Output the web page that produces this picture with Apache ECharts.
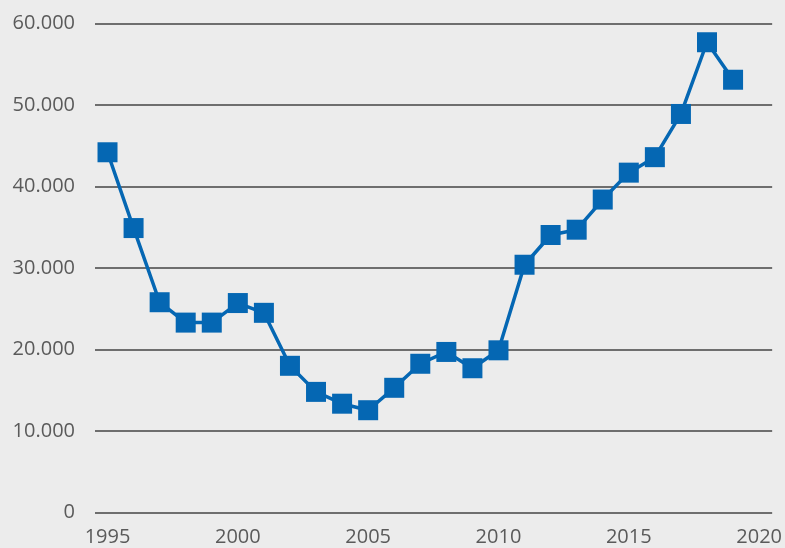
<!DOCTYPE html>
<html>
<head>
<meta charset="utf-8">
<script src="https://cdn.jsdelivr.net/npm/echarts@6/dist/echarts.min.js"></script>
<style>
  html, body { margin: 0; padding: 0; background: #ececec; }
  #chart { width: 785px; height: 548px; }
</style>
</head>
<body>
<div id="chart"></div>
<script>
// Jahre und Werte
const years = [1995, 1996, 1997, 1998, 1999, 2000, 2001, 2002, 2003, 2004, 2005, 2006,
  2007, 2008, 2009, 2010, 2011, 2012, 2013, 2014, 2015, 2016, 2017, 2018, 2019];
const values = [44200, 34900, 25800, 23300, 23300, 25700, 24500, 18000, 14800, 13350, 12550, 15300,
  18250, 19700, 17700, 19900, 30400, 34050, 34700, 38400, 41700, 43600, 48900, 57700, 53100];
const xTicks = [1995, 2000, 2005, 2010, 2015, 2020];

const chart = echarts.init(document.getElementById('chart'));

const fmt = v => v === 0 ? '0' : v.toLocaleString('de-DE');

const option = {
  backgroundColor: '#ececec',
  animation: false,
  textStyle: { fontFamily: 'Open Sans' },
  grid: { left: 95, right: 12, top: 23.5, bottom: 35.5 },
  xAxis: {
    type: 'value',
    min: 1994.52,
    max: 2020.5,
    axisLine: { show: false },
    axisTick: { show: false },
    splitLine: { show: false },
    axisLabel: {
      customValues: xTicks,
      color: '#5a5a5a',
      fontSize: 20,
      margin: 15,
      formatter: v => String(v)
    }
  },
  yAxis: {
    type: 'value',
    min: 0,
    max: 60000,
    interval: 10000,
    axisLine: { show: false },
    axisTick: { show: false },
    splitLine: { lineStyle: { color: '#6e6e6e', width: 2 } },
    axisLabel: {
      color: '#5a5a5a',
      fontSize: 20,
      margin: 20,
      formatter: fmt
    }
  },
  series: [{
    type: 'line',
    data: years.map((y, i) => [y, values[i]]),
    symbol: 'rect',
    symbolSize: 20,
    lineStyle: { color: '#0567b3', width: 3.5 },
    itemStyle: { color: '#0567b3', borderWidth: 0, opacity: 1 }
  }]
};

chart.setOption(option);
</script>
</body>
</html>
